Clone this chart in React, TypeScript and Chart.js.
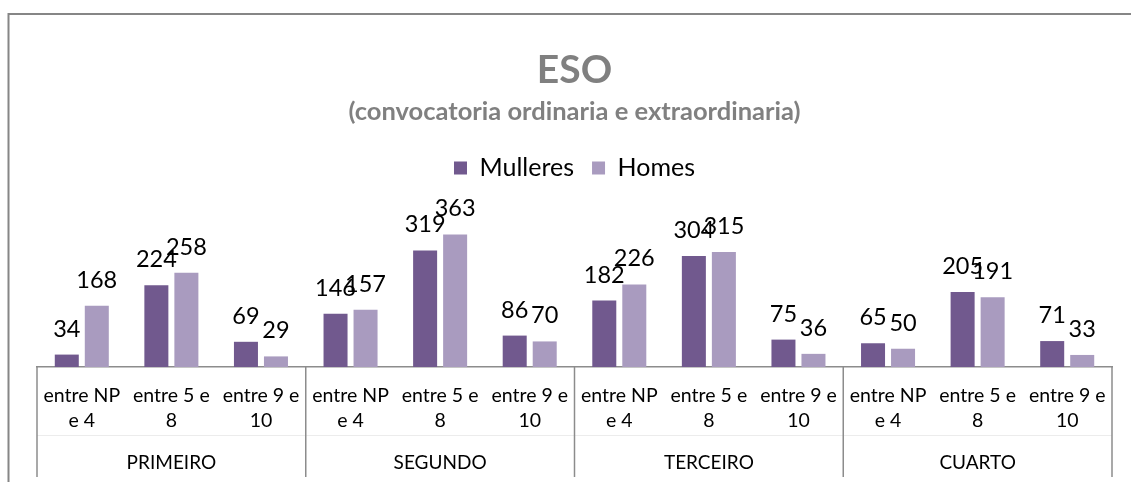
import React, { useEffect, useRef } from "react";
import { Chart, registerables } from "chart.js";

Chart.register(...registerables);

const CATEGORIES: string[][] = [
  ["entre NP", "e 4"], ["entre 5 e", "8"], ["entre 9 e", "10"],
  ["entre NP", "e 4"], ["entre 5 e", "8"], ["entre 9 e", "10"],
  ["entre NP", "e 4"], ["entre 5 e", "8"], ["entre 9 e", "10"],
  ["entre NP", "e 4"], ["entre 5 e", "8"], ["entre 9 e", "10"],
];
const GROUPS = ["PRIMEIRO", "SEGUNDO", "TERCEIRO", "CUARTO"];
const MULLERES = [34, 224, 69, 146, 319, 86, 182, 304, 75, 65, 205, 71];
const HOMES = [168, 258, 29, 157, 363, 70, 226, 315, 36, 50, 191, 33];

const FONT = "Lato, 'Open Sans', sans-serif";
const LINE = "#8c8c8c";

const dataLabels = {
  id: "dataLabels",
  afterDatasetsDraw(chart: any) {
    const ctx = chart.ctx;
    ctx.save();
    ctx.font = `23.5px ${FONT}`;
    ctx.fillStyle = "#000";
    ctx.textAlign = "center";
    ctx.textBaseline = "alphabetic";
    chart.data.datasets.forEach((ds: any, i: number) => {
      const meta = chart.getDatasetMeta(i);
      meta.data.forEach((el: any, j: number) => {
        ctx.fillText(String(ds.data[j]), el.x, el.y - 18);
      });
    });
    ctx.restore();
  },
};

const frame = {
  id: "frame",
  beforeInit(chart: any) {
    const legend = chart.legend;
    if (legend) {
      const orig = legend.fit;
      legend.fit = function () {
        orig.call(this);
        this.height += 30.5;
      };
    }
  },
  beforeDraw(chart: any) {
    const ctx = chart.ctx;
    ctx.save();
    ctx.strokeStyle = "#868686";
    ctx.lineWidth = 2;
    ctx.beginPath();
    ctx.moveTo(8.5, chart.height);
    ctx.lineTo(8.5, 14);
    ctx.lineTo(chart.width, 14);
    ctx.stroke();
    ctx.restore();
  },
  afterDraw(chart: any) {
    const ctx = chart.ctx;
    const xs = chart.scales.x;
    const top = chart.chartArea.bottom;
    const bottom = 477;
    ctx.save();
    ctx.strokeStyle = "#ececec";
    ctx.lineWidth = 1;
    ctx.beginPath();
    ctx.moveTo(xs.left, 435.5);
    ctx.lineTo(xs.right, 435.5);
    ctx.stroke();
    ctx.strokeStyle = LINE;
    ctx.lineWidth = 1.5;
    for (let k = 0; k <= GROUPS.length; k++) {
      const x = xs.getPixelForValue(k * 3 - 0.5);
      ctx.beginPath();
      ctx.moveTo(x, top);
      ctx.lineTo(x, bottom);
      ctx.stroke();
    }
    ctx.restore();
  },
};

export default function App() {
  const ref = useRef<HTMLCanvasElement>(null);
  useEffect(() => {
    if (!ref.current) return;
    const chart = new Chart(ref.current, {
      type: "bar",
      data: {
        labels: CATEGORIES,
        datasets: [
          {
            label: "Mulleres",
            data: MULLERES,
            backgroundColor: "#71598E",
            barPercentage: 0.8,
            categoryPercentage: 0.67,
          },
          {
            label: "Homes",
            data: HOMES,
            backgroundColor: "#A99BBF",
            barPercentage: 0.8,
            categoryPercentage: 0.67,
          },
        ],
      },
      options: {
        responsive: false,
        animation: false,
        layout: { padding: { top: 0, left: 37, right: 19, bottom: 6 } },
        plugins: {
          title: {
            display: true,
            text: "ESO",
            color: "#808080",
            font: { family: FONT, size: 39, weight: "bold" },
            padding: { top: 47, bottom: 3 },
          },
          subtitle: {
            display: true,
            text: "(convocatoria ordinaria e extraordinaria)",
            color: "#808080",
            font: { family: FONT, size: 25.5, weight: "bold" },
            padding: { top: 0, bottom: 10 },
          },
          legend: {
            display: true,
            position: "top",
            labels: {
              boxWidth: 13,
              boxHeight: 13,
              padding: 18,
              color: "#000",
              font: { family: FONT, size: 25 },
            },
          },
          tooltip: { enabled: false },
        },
        scales: {
          x: {
            type: "category",
            position: "bottom",
            grid: { display: false, drawTicks: false, tickLength: 0 },
            border: { display: true, color: LINE, width: 1.5 },
            ticks: {
              autoSkip: false,
              maxRotation: 0,
              minRotation: 0,
              padding: 16.5,
              color: "#000",
              font: { family: FONT, size: 19.5, lineHeight: 25 / 19.5 },
            },
          },
          x2: {
            type: "category",
            position: "bottom",
            labels: GROUPS,
            offset: true,
            grid: { display: false, drawTicks: false, tickLength: 0 },
            border: { display: false },
            ticks: {
              autoSkip: false,
              maxRotation: 0,
              padding: 0.5,
              color: "#000",
              font: { family: FONT, size: 19, lineHeight: 25 / 19 },
            },
          },
          y: {
            display: false,
            min: 0,
            max: 400,
          },
        },
      },
      plugins: [dataLabels, frame],
    });
    return () => chart.destroy();
  }, []);
  return (
    <div style={{ position: "absolute", left: 0, top: 0, width: 1131, height: 482, background: "#fff" }}>
      <canvas ref={ref} width={1131} height={482} style={{ display: "block" }} />
    </div>
  );
}
